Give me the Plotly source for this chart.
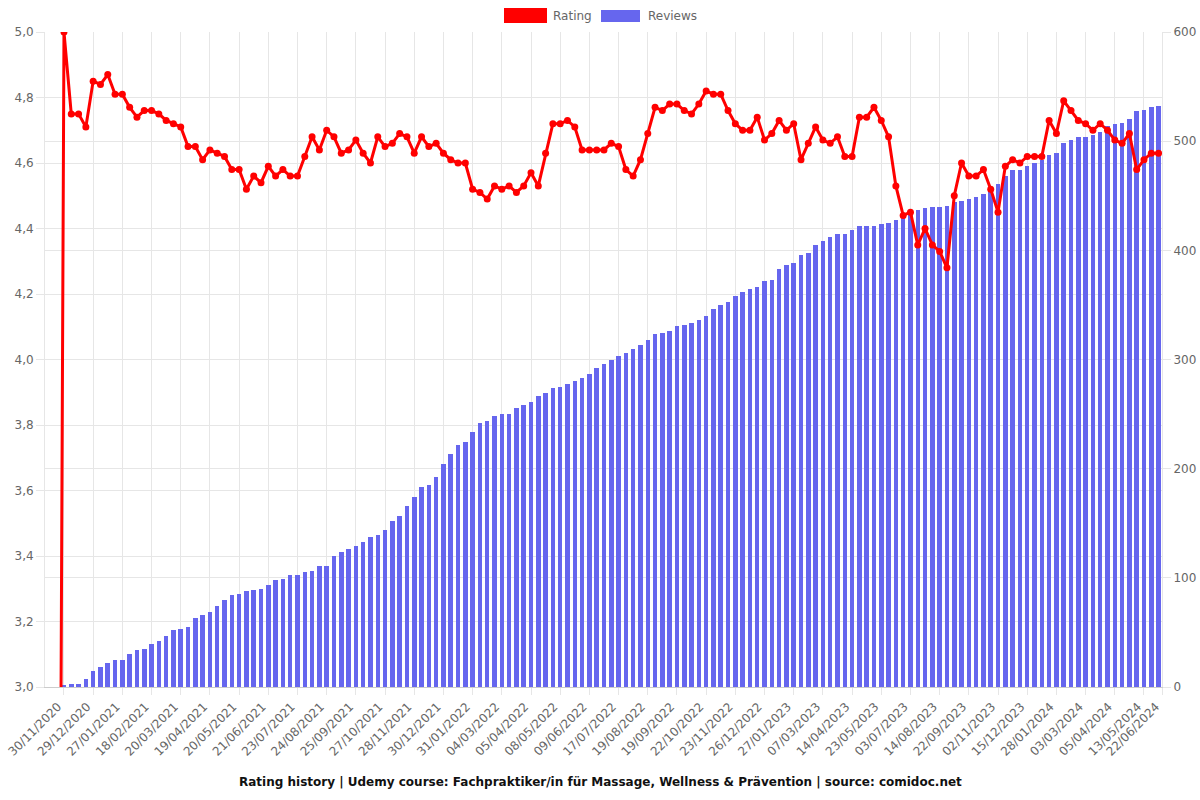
import plotly.graph_objects as go

# ---------------- data ----------------
tick_labels = [
    "30/11/2020", "29/12/2020", "27/01/2021", "18/02/2021", "20/03/2021", "19/04/2021",
    "20/05/2021", "21/06/2021", "23/07/2021", "24/08/2021", "25/09/2021", "27/10/2021",
    "28/11/2021", "30/12/2021", "31/01/2022", "04/03/2022", "05/04/2022", "08/05/2022",
    "09/06/2022", "17/07/2022", "19/08/2022", "19/09/2022", "22/10/2022", "23/11/2022",
    "26/12/2022", "27/01/2023", "07/03/2023", "14/04/2023", "23/05/2023", "03/07/2023",
    "14/08/2023", "22/09/2023", "02/11/2023", "15/12/2023", "28/01/2024", "03/03/2024",
    "05/04/2024", "13/05/2024", "22/06/2024",
]

rating = [
    0.0,
    5.00, 4.75, 4.75, 4.71, 4.85, 4.84, 4.87, 4.81, 4.81, 4.77,
    4.74, 4.76, 4.76, 4.75, 4.73, 4.72, 4.71, 4.65, 4.65, 4.61,
    4.64, 4.63, 4.62, 4.58, 4.58, 4.52, 4.56, 4.54, 4.59, 4.56,
    4.58, 4.56, 4.56, 4.62, 4.68, 4.64, 4.70, 4.68, 4.63, 4.64,
    4.67, 4.63, 4.60, 4.68, 4.65, 4.66, 4.69, 4.68, 4.63, 4.68,
    4.65, 4.66, 4.63, 4.61, 4.60, 4.60, 4.52, 4.51, 4.49, 4.53,
    4.52, 4.53, 4.51, 4.53, 4.57, 4.53, 4.63, 4.72, 4.72, 4.73,
    4.71, 4.64, 4.64, 4.64, 4.64, 4.66, 4.65, 4.58, 4.56, 4.61,
    4.69, 4.77, 4.76, 4.78, 4.78, 4.76, 4.75, 4.78, 4.82, 4.81,
    4.81, 4.76, 4.72, 4.70, 4.70, 4.74, 4.67, 4.69, 4.73, 4.70,
    4.72, 4.61, 4.66, 4.71, 4.67, 4.66, 4.68, 4.62, 4.62, 4.74,
    4.74, 4.77, 4.73, 4.68, 4.53, 4.44, 4.45, 4.35, 4.40, 4.35,
    4.33, 4.28, 4.50, 4.60, 4.56, 4.56, 4.58, 4.52, 4.45, 4.59,
    4.61, 4.60, 4.62, 4.62, 4.62, 4.73, 4.69, 4.79, 4.76, 4.73,
    4.72, 4.70, 4.72, 4.70, 4.67, 4.66, 4.69, 4.58, 4.61, 4.63,
    4.63,
]

reviews = [
    0,
    1, 3, 3, 7, 15, 18, 22, 25, 25, 30,
    34, 35, 39, 42, 47, 52, 53, 55, 63, 66,
    69, 74, 80, 84, 85, 88, 89, 90, 93, 98,
    99, 103, 103, 105, 106, 111, 111, 120, 124, 126,
    129, 133, 137, 139, 144, 152, 157, 166, 174, 183,
    185, 192, 204, 213, 222, 224, 234, 242, 244, 248,
    250, 250, 256, 258, 261, 267, 269, 274, 275, 278,
    280, 283, 287, 292, 296, 300, 303, 306, 310, 313,
    318, 323, 324, 326, 331, 332, 333, 336, 340, 346,
    350, 353, 358, 362, 365, 366, 372, 373, 383, 387,
    388, 396, 398, 405, 409, 412, 415, 415, 419, 422,
    422, 422, 424, 425, 428, 431, 435, 437, 439, 440,
    440, 441, 444, 445, 447, 449, 452, 456, 461, 468,
    474, 474, 477, 480, 483, 487, 489, 498, 501, 504,
    504, 506, 508, 514, 516, 517, 520, 528, 529, 531,
    532,
]

# ---------------- geometry (page pixels; body margin removed below) ----------------
W, H = 1200, 800
PL, PR, PT, PB = 45, 1162, 32, 687  # plot area in page pixels

x = list(range(len(rating)))
x_min, x_max = -1.6, len(rating) - 1 + 0.47
tick_step = 4
tickvals = [1 + tick_step * k for k in range(len(tick_labels) - 1)] + [x_max]

def px_x(p):
    return (p - PL) / (PR - PL)

def px_y(p):
    return (PB - p) / (PB - PT)

GRID = "#e6e6e6"
TXT = "#666666"
FONT = "DejaVu Sans"

fig = go.Figure()

fig.add_trace(go.Bar(
    x=x, y=reviews, name="Reviews", yaxis="y",
    marker=dict(color="#6666ee", line=dict(width=0)),
    width=0.62,
))

fig.add_trace(go.Scatter(
    x=x, y=rating, name="Rating", yaxis="y2",
    mode="lines+markers",
    line=dict(color="#ff0000", width=3),
    marker=dict(color="#ff0000", size=7),
    cliponaxis=True,
))

fig.update_layout(
    width=W, height=H,
    margin=dict(l=PL, r=W - PR, t=PT, b=H - PB),
    paper_bgcolor="white", plot_bgcolor="white",
    separators=",.",
    showlegend=False,
    bargap=0,
    font=dict(family=FONT, size=12, color=TXT),
    xaxis=dict(
        range=[x_min, x_max], automargin=False,
        tickmode="array", tickvals=tickvals, ticktext=tick_labels,
        tickangle=-45, ticklabelshift=-6, ticklabeloverflow="allow",
        showgrid=True, gridcolor=GRID, gridwidth=1,
        ticks="outside", ticklen=7, tickcolor=GRID,
        showline=True, linecolor="#cccccc", linewidth=1,
        zeroline=False,
        tickfont=dict(family=FONT, size=12, color=TXT),
    ),
    yaxis=dict(
        side="right", range=[0, 600], dtick=100, automargin=False,
        showgrid=True, gridcolor=GRID, gridwidth=1,
        ticks="outside", ticklen=8, tickcolor=GRID,
        showline=True, linecolor=GRID, mirror=False,
        zeroline=False, ticklabeloverflow="allow",
        tickfont=dict(family=FONT, size=12, color=TXT),
    ),
    yaxis2=dict(
        side="left", overlaying="y", range=[3, 5], dtick=0.2, automargin=False,
        tickformat=".1f",
        showgrid=True, gridcolor=GRID, gridwidth=1,
        ticks="outside", ticklen=8, tickcolor=GRID,
        showline=True, linecolor=GRID,
        zeroline=False,
        tickfont=dict(family=FONT, size=12, color=TXT),
    ),
    shapes=[
        dict(type="rect", xref="paper", yref="paper",
             x0=px_x(504), x1=px_x(547), y0=px_y(23), y1=px_y(8),
             fillcolor="#ff0000", line=dict(width=0)),
        dict(type="rect", xref="paper", yref="paper",
             x0=px_x(601), x1=px_x(640), y0=px_y(22), y1=px_y(10),
             fillcolor="#6666ee", line=dict(width=0)),
    ],
    annotations=[
        dict(text="Rating", xref="paper", yref="paper", x=px_x(551), y=px_y(16),
             xanchor="left", yanchor="middle", showarrow=False,
             font=dict(family=FONT, size=12, color=TXT)),
        dict(text="Reviews", xref="paper", yref="paper", x=px_x(646), y=px_y(16),
             xanchor="left", yanchor="middle", showarrow=False,
             font=dict(family=FONT, size=12, color=TXT)),
        dict(text="<b>Rating history | Udemy course: Fachpraktiker/in für Massage, Wellness &amp; Prävention | source: comidoc.net</b>",
             xref="paper", yref="paper", x=px_x(600), y=px_y(782),
             xanchor="center", yanchor="middle", showarrow=False,
             font=dict(family=FONT, size=12, color="#111111")),
    ],
)

fig.write_html(
    "out.html",
    config={"displayModeBar": False},
    post_script="document.body.style.margin='0';document.body.style.overflow='hidden';",
)
